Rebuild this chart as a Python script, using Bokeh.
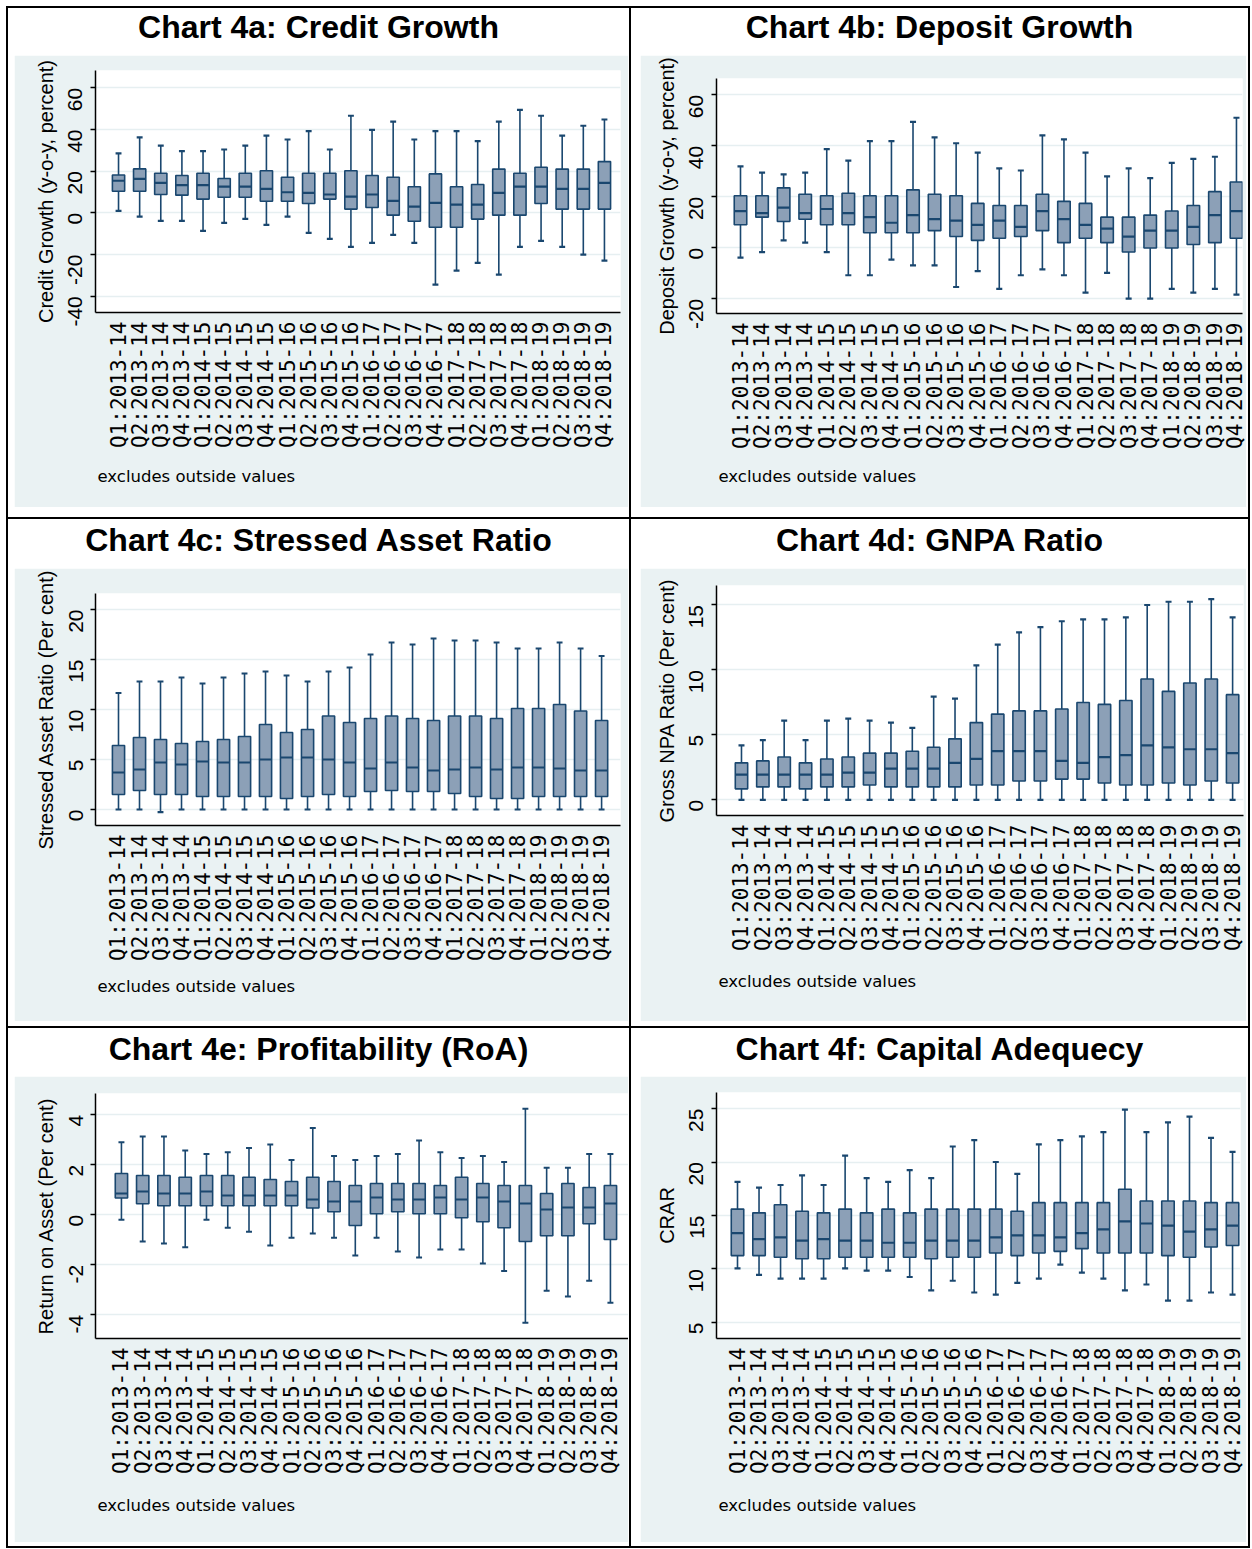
import math
from bokeh.plotting import figure
from bokeh.models import Range1d, FixedTicker, Title, Div, Spacer, ColumnDataSource
from bokeh.layouts import row, column
from bokeh.transform import dodge
from bokeh.embed import file_html
from bokeh.resources import INLINE

# ---------------- data ----------------
tick_labels = ["Q1:2013-14", "Q2:2013-14", "Q3:2013-14", "Q4:2013-14",
               "Q1:2014-15", "Q2:2014-15", "Q3:2014-15", "Q4:2014-15",
               "Q1:2015-16", "Q2:2015-16", "Q3:2015-16", "Q4:2015-16",
               "Q1:2016-17", "Q2:2016-17", "Q3:2016-17", "Q4:2016-17",
               "Q1:2017-18", "Q2:2017-18", "Q3:2017-18", "Q4:2017-18",
               "Q1:2018-19", "Q2:2018-19", "Q3:2018-19", "Q4:2018-19"]
positions = [1, 2, 3, 4, 5, 6, 7, 8, 9, 10, 11, 12, 13, 14, 15, 16, 17, 18, 19, 20, 21, 22, 23, 24]

credit_hi = [28.5, 36.2, 32.3, 29.6, 29.6, 30.4, 32.3, 37.1, 35.2, 39.2, 30.4, 46.6, 39.8, 43.8, 35.2, 39.2, 39.2, 34.4, 43.8, 49.4, 46.6, 37.1, 41.8, 44.8]
credit_q3 = [18.2, 21.1, 19.0, 17.9, 19.0, 16.5, 19.0, 20.2, 17.1, 19.0, 19.0, 20.2, 17.9, 17.1, 12.5, 18.7, 12.5, 13.6, 21.0, 19.0, 21.9, 21.0, 21.0, 24.6]
credit_med = [15.4, 16.3, 14.4, 13.3, 13.3, 12.6, 12.6, 11.5, 9.9, 9.6, 8.8, 7.8, 8.8, 5.8, 3.0, 4.8, 4.0, 4.0, 9.6, 12.6, 12.6, 11.5, 11.5, 14.4]
credit_q1 = [10.4, 10.4, 8.8, 8.5, 6.6, 7.5, 7.5, 5.6, 5.6, 4.5, 6.6, 1.8, 2.6, -1.1, -4.0, -6.9, -6.9, -3.0, -1.1, -1.1, 4.5, 1.8, 1.8, 1.8]
credit_lo = [1.0, -1.8, -3.8, -3.8, -8.6, -4.8, -2.9, -5.8, -1.8, -9.6, -12.5, -16.3, -14.4, -10.6, -14.4, -34.4, -27.7, -24.0, -29.6, -16.3, -13.4, -16.3, -20.0, -22.9]

deposit_hi = [31.9, 29.5, 28.8, 29.5, 38.7, 34.2, 41.8, 41.8, 49.4, 43.3, 41.0, 37.3, 31.1, 30.3, 44.1, 42.5, 37.3, 28.0, 31.1, 27.3, 33.3, 34.9, 35.7, 51.0]
deposit_q3 = [20.4, 20.4, 23.5, 21.0, 20.4, 21.4, 20.4, 20.4, 22.7, 21.0, 20.4, 17.4, 16.6, 16.6, 21.0, 18.2, 17.4, 12.0, 12.0, 12.8, 14.4, 16.6, 22.0, 25.8]
deposit_med = [14.4, 13.6, 15.7, 13.6, 15.2, 13.6, 12.0, 9.8, 12.8, 11.2, 10.6, 9.0, 10.6, 8.2, 14.4, 11.2, 9.0, 7.5, 4.4, 6.7, 6.7, 8.2, 12.8, 14.4]
deposit_q1 = [9.0, 12.0, 10.3, 11.2, 9.0, 9.0, 5.9, 5.9, 5.9, 6.7, 4.4, 2.9, 3.7, 4.4, 6.7, 2.0, 3.7, 2.0, -1.7, -0.1, -0.1, 1.3, 2.0, 3.7]
deposit_lo = [-3.9, -1.7, 2.9, 2.0, -1.7, -10.8, -10.8, -4.7, -6.9, -6.9, -15.4, -9.2, -16.1, -10.8, -8.5, -10.8, -17.6, -9.9, -20.0, -20.0, -16.1, -17.6, -16.1, -18.4]

stressed_hi = [11.65, 12.8, 12.8, 13.2, 12.6, 13.2, 13.6, 13.8, 13.4, 12.8, 13.8, 14.2, 15.5, 16.7, 16.5, 17.1, 16.9, 16.9, 16.7, 16.1, 16.1, 16.7, 16.1, 15.35]
stressed_q3 = [6.4, 7.2, 7.0, 6.6, 6.8, 7.0, 7.3, 8.5, 7.7, 8.0, 9.35, 8.7, 9.1, 9.35, 9.1, 8.9, 9.35, 9.35, 9.1, 10.1, 10.1, 10.5, 9.85, 8.9]
stressed_med = [3.7, 4.0, 4.7, 4.5, 4.8, 4.7, 4.7, 5.0, 5.2, 5.2, 5.0, 4.7, 4.1, 4.7, 4.2, 3.9, 4.0, 4.2, 4.0, 4.2, 4.2, 4.1, 3.9, 3.9]
stressed_q1 = [1.5, 1.9, 1.5, 1.5, 1.3, 1.3, 1.3, 1.3, 1.1, 1.3, 1.5, 1.3, 1.8, 1.9, 1.8, 1.8, 1.6, 1.3, 1.1, 1.1, 1.3, 1.3, 1.3, 1.3]
stressed_lo = [0.0, 0.0, -0.27, 0.0, 0.0, 0.0, 0.0, 0.0, 0.0, 0.0, 0.0, 0.0, 0.0, 0.0, 0.0, 0.0, 0.0, 0.0, 0.0, 0.0, 0.0, 0.0, 0.0, 0.0]

gnpa_hi = [4.2, 4.6, 6.1, 4.6, 6.1, 6.25, 6.1, 5.95, 5.55, 7.95, 7.8, 10.35, 11.95, 12.9, 13.3, 13.75, 13.9, 13.9, 14.05, 15.0, 15.25, 15.25, 15.45, 14.05]
gnpa_q3 = [2.85, 3.0, 3.3, 2.85, 3.15, 3.3, 3.6, 3.6, 3.75, 4.05, 4.7, 5.95, 6.6, 6.85, 6.85, 7.0, 7.5, 7.35, 7.65, 9.3, 8.35, 9.0, 9.3, 8.1]
gnpa_med = [1.95, 1.95, 1.95, 1.95, 1.95, 2.1, 2.1, 2.4, 2.4, 2.4, 2.85, 3.15, 3.75, 3.75, 3.75, 3.0, 2.85, 3.3, 3.45, 4.2, 4.05, 3.9, 3.9, 3.6]
gnpa_q1 = [0.85, 1.0, 1.0, 0.85, 1.0, 1.0, 1.15, 1.0, 1.0, 1.0, 1.0, 1.15, 1.15, 1.45, 1.45, 1.6, 1.6, 1.3, 1.15, 1.15, 1.3, 1.15, 1.45, 1.3]
gnpa_lo = [0.0, 0.0, 0.0, 0.0, 0.0, 0.0, 0.0, 0.0, 0.0, 0.0, 0.0, 0.0, 0.0, 0.0, 0.0, 0.0, 0.0, 0.0, 0.0, 0.0, 0.0, 0.0, 0.0, 0.0]

roa_hi = [2.9, 3.13, 3.13, 2.57, 2.43, 2.5, 2.67, 2.81, 2.19, 3.47, 2.35, 2.19, 2.35, 2.43, 2.97, 2.5, 2.27, 2.35, 2.11, 4.24, 1.88, 1.88, 2.43, 2.43]
roa_q3 = [1.65, 1.57, 1.57, 1.5, 1.57, 1.57, 1.5, 1.41, 1.33, 1.5, 1.33, 1.17, 1.25, 1.25, 1.25, 1.17, 1.5, 1.25, 1.17, 1.17, 0.85, 1.25, 1.09, 1.17]
roa_med = [0.85, 0.93, 0.85, 0.85, 0.93, 0.77, 0.77, 0.77, 0.77, 0.61, 0.53, 0.53, 0.69, 0.61, 0.61, 0.69, 0.61, 0.69, 0.53, 0.45, 0.21, 0.29, 0.29, 0.45]
roa_q1 = [0.67, 0.44, 0.36, 0.36, 0.36, 0.36, 0.36, 0.36, 0.36, 0.27, 0.12, -0.43, 0.04, 0.12, 0.04, 0.04, -0.12, -0.28, -0.52, -1.07, -0.84, -0.84, -0.36, -0.99]
roa_lo = [-0.2, -1.07, -1.15, -1.3, -0.2, -0.52, -0.68, -1.23, -0.92, -0.75, -0.92, -1.63, -0.92, -1.47, -1.71, -1.39, -1.39, -1.95, -2.25, -4.32, -3.04, -3.27, -2.64, -3.52]

crar_hi = [18.15, 17.6, 17.85, 18.75, 17.85, 20.6, 18.5, 18.15, 19.25, 18.5, 21.45, 22.05, 20.0, 18.9, 21.65, 22.05, 22.4, 22.8, 24.9, 22.8, 23.7, 24.25, 22.25, 20.95]
crar_q3 = [15.6, 15.25, 16.0, 15.4, 15.25, 15.6, 15.25, 15.6, 15.25, 15.6, 15.6, 15.6, 15.6, 15.4, 16.2, 16.2, 16.2, 16.2, 17.45, 16.35, 16.35, 16.35, 16.2, 16.2]
crar_med = [13.35, 12.8, 12.95, 12.65, 12.8, 12.65, 12.65, 12.45, 12.45, 12.65, 12.65, 12.65, 12.95, 13.15, 13.15, 12.95, 13.35, 13.7, 14.45, 14.25, 14.05, 13.5, 13.7, 14.05]
crar_q1 = [11.25, 11.25, 11.1, 10.95, 10.95, 11.1, 11.1, 11.1, 11.1, 10.95, 11.1, 11.1, 11.5, 11.25, 11.5, 11.65, 11.9, 11.5, 11.5, 11.5, 11.25, 11.1, 12.05, 12.2]
crar_lo = [10.05, 9.45, 9.1, 9.1, 9.1, 10.05, 9.85, 9.85, 9.25, 8.0, 8.9, 7.8, 7.6, 8.7, 9.1, 10.4, 9.65, 9.1, 8.0, 8.55, 7.05, 7.05, 7.8, 7.6]

titles = ["Chart 4a: Credit Growth", "Chart 4b: Deposit Growth",
          "Chart 4c: Stressed Asset Ratio", "Chart 4d: GNPA Ratio",
          "Chart 4e: Profitability (RoA)", "Chart 4f: Capital Adequecy"]
ylabels = ["Credit Growth (y-o-y, percent)", "Deposit Growth (y-o-y, percent)",
           "Stressed Asset Ratio (Per cent)", "Gross NPA Ratio (Per cent)",
           "Return on Asset (Per cent)", "CRAR"]
note_text = "excludes outside values"

yticks_a = [-40, -20, 0, 20, 40, 60]
yticks_b = [-20, 0, 20, 40, 60]
yticks_c = [0, 5, 10, 15, 20]
yticks_d = [0, 5, 10, 15]
yticks_e = [-4, -2, 0, 2, 4]
yticks_f = [5, 10, 15, 20, 25]

# ---------------- style ----------------
NAVY = "#1A476F"
BOXFILL = "#8CA0B7"
REGION = "#EAF2F3"
GRID = "#E6EFF1"

HAS_STANDOFF = "standoff" in Title.properties()


def box_chart(lo, q1, med, q3, hi, ylabel, yticks, yrange, xrange, w, h,
              b_left, b_right, b_top, b_bottom, note_standoff):
    p = figure(width=w, height=h, x_range=Range1d(*xrange), y_range=Range1d(*yrange),
               output_backend="svg", toolbar_location=None,
               min_border_left=b_left, min_border_right=b_right,
               min_border_top=b_top, min_border_bottom=b_bottom)
    p.background_fill_color = "white"
    p.border_fill_color = REGION
    p.outline_line_color = None

    src = ColumnDataSource(dict(x=positions, lo=lo, q1=q1, med=med, q3=q3, hi=hi))
    p.segment(x0="x", y0="q3", x1="x", y1="hi", source=src, line_color=NAVY, line_width=1.6)
    p.segment(x0="x", y0="lo", x1="x", y1="q1", source=src, line_color=NAVY, line_width=1.6)
    p.segment(x0=dodge("x", -0.14), y0="hi", x1=dodge("x", 0.14), y1="hi", source=src,
              line_color=NAVY, line_width=2.2)
    p.segment(x0=dodge("x", -0.14), y0="lo", x1=dodge("x", 0.14), y1="lo", source=src,
              line_color=NAVY, line_width=2.2)
    p.vbar(x="x", width=0.58, bottom="q1", top="q3", source=src,
           fill_color=BOXFILL, line_color=NAVY, line_width=1.6)
    p.segment(x0=dodge("x", -0.29), y0="med", x1=dodge("x", 0.29), y1="med", source=src,
              line_color=NAVY, line_width=2.2)

    xa = p.xaxis[0]
    xa.ticker = FixedTicker(ticks=positions)
    xa.major_label_overrides = {pos: lab for pos, lab in zip(positions, tick_labels)}
    xa.major_label_orientation = math.pi / 2
    xa.major_tick_line_color = None
    xa.minor_tick_line_color = None
    xa.major_label_text_font = "DejaVu Sans Mono"
    xa.major_label_text_font_size = "21px"
    xa.major_label_text_color = "black"
    xa.major_label_standoff = 3
    xa.axis_line_color = "black"
    xa.axis_line_width = 1.5
    p.xgrid.grid_line_color = None

    ya = p.yaxis[0]
    ya.ticker = FixedTicker(ticks=yticks)
    ya.major_label_overrides = {t: str(t) for t in yticks}
    ya.major_label_orientation = math.pi / 2
    ya.major_label_text_font = "Liberation Sans"
    ya.major_label_text_font_size = "21px"
    ya.major_label_text_color = "black"
    ya.major_label_standoff = 15
    ya.major_tick_out = 5
    ya.major_tick_in = 0
    ya.major_tick_line_color = "black"
    ya.major_tick_line_width = 1.5
    ya.minor_tick_line_color = None
    ya.axis_line_color = "black"
    ya.axis_line_width = 1.5
    ya.axis_label = ylabel
    ya.axis_label_text_font = "Liberation Sans"
    ya.axis_label_text_font_style = "normal"
    ya.axis_label_text_font_size = "20px"
    ya.axis_label_text_color = "black"
    ya.axis_label_standoff = 2
    p.ygrid.grid_line_color = GRID
    p.ygrid.grid_line_width = 1.6

    kw = dict(text=note_text, align="left", text_font="DejaVu Sans",
              text_font_size="16.5px", text_font_style="normal", text_color="black",
              offset=2)
    if HAS_STANDOFF:
        kw["standoff"] = note_standoff
    p.add_layout(Title(**kw), "below")
    return p


def title_div(text, w, h, pad):
    html = ('<div style="font-family: \'Liberation Sans\', Arial, sans-serif; font-size: 32px; '
            'font-weight: bold; line-height: 32px; text-align: center; color: black; '
            'width: %dpx; padding-top: %dpx; margin: 0;">%s</div>' % (w, pad, text))
    return Div(text=html, width=w, height=h, margin=0)


def vline(h):
    return Spacer(width=2, height=h, margin=0, styles={"background-color": "black"})


def hline():
    return Spacer(width=1244, height=2, margin=0, styles={"background-color": "black"})


def gap(w, h):
    return Spacer(width=w, height=h, margin=0)


LW, RW = 621, 617

# Row 1  (y 8..517)
fa = box_chart(credit_lo, credit_q1, credit_med, credit_q3, credit_hi, ylabels[0], yticks_a,
               (-47.8, 68.3), (-0.09, 24.76), 614, 452, 81, 8, 15, 195, 28)
fb = box_chart(deposit_lo, deposit_q1, deposit_med, deposit_q3, deposit_hi, ylabels[1], yticks_b,
               (-25.8, 66.4), (-0.113, 24.28), 606, 452, 76, 4, 23, 194, 27)
cell_a = column(title_div(titles[0], LW, 47, 3),
                row(gap(6, 452), fa, gap(1, 452)),
                gap(LW, 10))
cell_b = column(title_div(titles[1], RW, 47, 3),
                row(gap(9, 452), fb, gap(2, 452)),
                gap(RW, 10))

# Row 2  (y 519..1026)
fc = box_chart(stressed_lo, stressed_q1, stressed_med, stressed_q3, stressed_hi, ylabels[2], yticks_c,
               (-1.6, 21.6), (-0.095, 24.9), 614, 453, 81, 8, 25, 196, 23)
fd = box_chart(gnpa_lo, gnpa_q1, gnpa_med, gnpa_q3, gnpa_hi, ylabels[3], yticks_d,
               (-1.2, 16.5), (-0.17, 24.51), 606, 453, 76, 3, 17, 206, 32)
cell_c = column(title_div(titles[2], LW, 49, 5),
                row(gap(6, 453), fc, gap(1, 453)),
                gap(LW, 5))
cell_d = column(title_div(titles[3], RW, 49, 5),
                row(gap(9, 453), fd, gap(2, 453)),
                gap(RW, 5))

# Row 3  (y 1028..1546)
fe = box_chart(roa_lo, roa_q1, roa_med, roa_q3, roa_hi, ylabels[4], yticks_e,
               (-4.95, 4.85), (-0.22, 24.85), 614, 466, 81, 0, 17, 204, 35)
ff = box_chart(crar_lo, crar_q1, crar_med, crar_q3, crar_hi, ylabels[5], yticks_f,
               (3.5, 26.5), (0.024, 24.37), 606, 466, 76, 6, 16, 204, 35)
cell_e = column(title_div(titles[4], LW, 48, 5),
                row(gap(6, 466), fe, gap(1, 466)),
                gap(LW, 4))
cell_f = column(title_div(titles[5], RW, 48, 5),
                row(gap(9, 466), ff, gap(2, 466)),
                gap(RW, 4))

table = column(
    hline(),
    row(vline(509), cell_a, vline(509), cell_b, vline(509)),
    hline(),
    row(vline(507), cell_c, vline(507), cell_d, vline(507)),
    hline(),
    row(vline(518), cell_e, vline(518), cell_f, vline(518)),
    hline(),
)

page = column(gap(1250, 6), row(gap(6, 1540), table))

open("out.html", "w").write(file_html(page, INLINE))
